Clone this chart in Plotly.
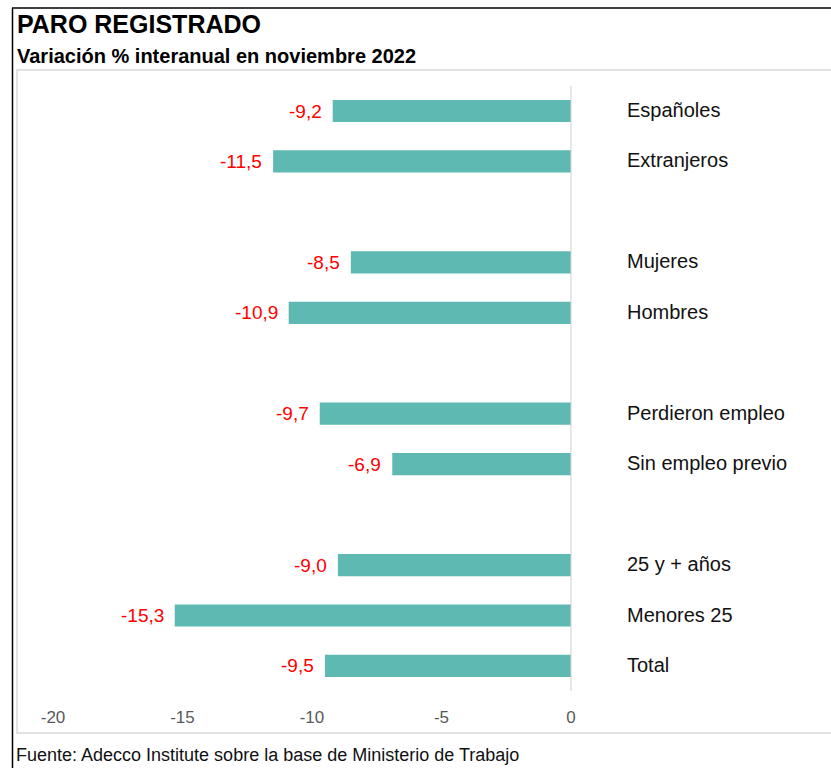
import plotly.graph_objects as go

categories = ["Españoles", "Extranjeros", " ", "Mujeres", "Hombres", "  ",
              "Perdieron empleo", "Sin empleo previo", "   ",
              "25 y + años", "Menores 25", "Total"]
values = [-9.2, -11.5, None, -8.5, -10.9, None, -9.7, -6.9, None, -9.0, -15.3, -9.5]
tick_vals = [-20, -15, -10, -5, 0]
tick_text = ["-20", "-15", "-10", "-5", "0"]

W, H = 831, 768
L, R, T, B = 17, 0, 70, 63
PW, PH = W - L - R, H - T - B

def px_x(p):
    return (p - L) / PW

def px_y(p):
    return (H - B - p) / PH

FONT = "Liberation Sans, Arial"
fig = go.Figure()
fig.add_trace(go.Bar(
    x=values, y=categories, orientation="h",
    marker=dict(color="#5DB9B1", line=dict(width=0)),
    width=0.44, hoverinfo="skip",
))

annotations = []
for c, v in zip(categories, values):
    if v is None:
        continue
    annotations.append(dict(
        x=v, y=c, xref="x", yref="y", text=f"{v:.1f}".replace(".", ","),
        showarrow=False, xanchor="right", xshift=-9,
        font=dict(family=FONT, size=19, color="#FF0000")))
    annotations.append(dict(
        x=2.09, y=c, xref="x", yref="y", text=c, showarrow=False,
        xanchor="left", yshift=1,
        font=dict(family=FONT, size=20, color="#111111")))

annotations += [
    dict(x=px_x(15), y=px_y(24), xref="paper", yref="paper", text="<b>PARO REGISTRADO</b>",
         showarrow=False, xanchor="left", yanchor="middle",
         font=dict(family=FONT, size=25, color="#000000")),
    dict(x=px_x(15), y=px_y(56), xref="paper", yref="paper",
         text="<b>Variación % interanual en noviembre 2022</b>",
         showarrow=False, xanchor="left", yanchor="middle",
         font=dict(family=FONT, size=20, color="#000000")),
    dict(x=px_x(14), y=px_y(755), xref="paper", yref="paper",
         text="Fuente: Adecco Institute sobre la base de Ministerio de Trabajo",
         showarrow=False, xanchor="left", yanchor="middle",
         font=dict(family="Liberation Sans Narrow, Arial Narrow, Liberation Sans", size=18, color="#111111")),
]

shapes = [
    dict(type="line", xref="x", yref="y", x0=0, x1=0, y0=-0.5, y1=11.5,
         line=dict(color="#D0D0D0", width=1)),
    dict(type="rect", xref="paper", yref="paper", x0=px_x(17), x1=px_x(835),
         y0=px_y(733), y1=px_y(70), line=dict(color="#D9D9D9", width=1.5)),
    dict(type="line", xref="paper", yref="paper", x0=px_x(12.5), x1=px_x(12.5),
         y0=px_y(8), y1=px_y(770), line=dict(color="#000000", width=1.5)),
    dict(type="line", xref="paper", yref="paper", x0=px_x(12), x1=px_x(835),
         y0=px_y(8), y1=px_y(8), line=dict(color="#000000", width=1.5)),
]

fig.update_layout(
    width=W, height=H,
    margin=dict(l=L, r=R, t=T, b=B, pad=0),
    paper_bgcolor="white", plot_bgcolor="white",
    showlegend=False,
    annotations=annotations, shapes=shapes,
    xaxis=dict(range=[-21.39, 10.04], tickvals=tick_vals, ticktext=tick_text,
               showgrid=False, zeroline=False, showline=False, ticks="",
               tickfont=dict(family=FONT, size=17, color="#595959")),
    yaxis=dict(type="category", categoryorder="array", categoryarray=categories,
               range=[11.774, -0.813], showticklabels=False, showgrid=False,
               zeroline=False, showline=False, ticks=""),
)

fig.write_html("out.html", config={"displayModeBar": False},
               post_script="document.body.style.margin='0';document.body.style.overflow='hidden';")
